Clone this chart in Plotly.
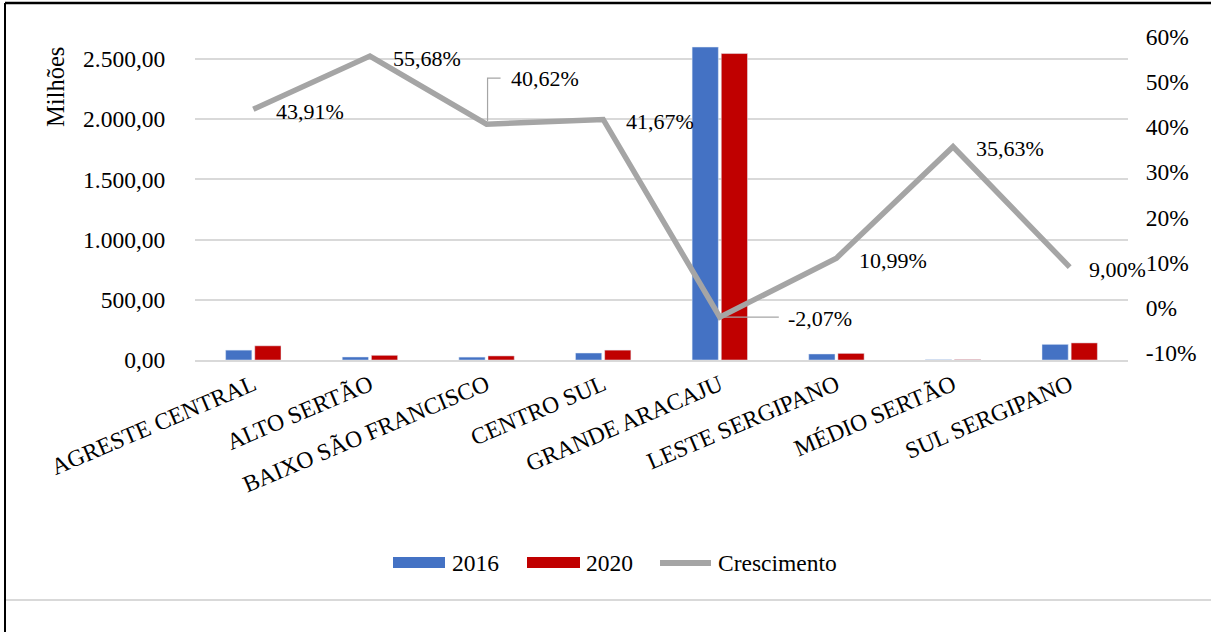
import plotly.graph_objects as go

categories = ["AGRESTE CENTRAL", "ALTO SERTÃO", "BAIXO SÃO FRANCISCO", "CENTRO SUL",
              "GRANDE ARACAJU", "LESTE SERGIPANO", "MÉDIO SERTÃO", "SUL SERGIPANO"]
v2016 = [82, 25, 24, 58, 2600, 50, 3, 130]
v2020 = [118, 39, 34, 82, 2546, 55, 4, 142]
growth = [0.4391, 0.5568, 0.4062, 0.4167, -0.0207, 0.1099, 0.3563, 0.0900]
series_names = ["2016", "2020", "Crescimento"]
left_ticks = [0, 500, 1000, 1500, 2000, 2500]
right_ticks = [-0.1, 0.0, 0.1, 0.2, 0.3, 0.4, 0.5, 0.6]
right_ticktext = ["-10%", "0%", "10%", "20%", "30%", "40%", "50%", "60%"]

FONT = "Liberation Serif, Times New Roman, serif"
BLUE, RED, GRAY = "#4472C4", "#C00000", "#A5A5A5"
W, H = 1211, 632
L, R, T, B = 195, 83, 35, 272
pw, ph = W - L - R, H - T - B


def px_x(p):
    return (p - L) / pw


def px_y(p):
    return (H - B - p) / ph


fig = go.Figure()
fig.add_trace(go.Bar(x=categories, y=v2016, name=series_names[0], marker_color=BLUE))
fig.add_trace(go.Bar(x=categories, y=v2020, name=series_names[1], marker_color=RED))
fig.add_trace(go.Scatter(x=categories, y=growth, name=series_names[2], yaxis="y2",
                         mode="lines", line=dict(color=GRAY, width=5.5)))

labels = [f"{g*100:.2f}%".replace(".", ",") for g in growth]
# label placement: (xshift, yshift) in px; leader paths for two labels
label_shift = {2: (22, 46), 4: (66, -1), 7: (17, -2)}
leaders = {2: "M1,3 L1,46 L14,46", 4: "M4,0 L59,0"}
for i, (c, g, t) in enumerate(zip(categories, growth, labels)):
    xs, ys = label_shift.get(i, (21, -2))
    fig.add_annotation(x=c, y=g, xref="x", yref="y2", text=t, showarrow=False,
                       xanchor="left", yanchor="middle", xshift=xs, yshift=ys,
                       font=dict(family=FONT, size=22, color="black"))
    if i in leaders:
        fig.add_shape(type="path", xref="x", yref="y2", xsizemode="pixel",
                      ysizemode="pixel", xanchor=i, yanchor=g, path=leaders[i],
                      line=dict(color=GRAY, width=1.2))

fig.add_annotation(xref="paper", yref="paper", x=px_x(55), y=px_y(87), text="Milhões",
                   textangle=-90, showarrow=False, xanchor="center", yanchor="middle",
                   font=dict(family=FONT, size=24.5, color="black"))

# legend (wide swatches like the source)
ly = px_y(563)
fig.add_shape(type="rect", xref="paper", yref="paper", x0=px_x(393), x1=px_x(445),
              y0=px_y(557), y1=px_y(568), fillcolor=BLUE, line=dict(width=0))
fig.add_shape(type="rect", xref="paper", yref="paper", x0=px_x(527), x1=px_x(580),
              y0=px_y(557), y1=px_y(568), fillcolor=RED, line=dict(width=0))
fig.add_shape(type="line", xref="paper", yref="paper", x0=px_x(660), x1=px_x(711),
              y0=ly, y1=ly, line=dict(color=GRAY, width=6))
for name, xp in zip(series_names, [450, 584, 716]):
    fig.add_annotation(xref="paper", yref="paper", x=px_x(xp), y=ly, text=name,
                       showarrow=False, xanchor="left", yanchor="middle",
                       font=dict(family=FONT, size=23.5, color="black"))

# frame lines
fig.add_shape(type="line", xref="paper", yref="paper", x0=px_x(5), x1=px_x(W + 5),
              y0=px_y(3), y1=px_y(3), line=dict(color="black", width=2.5))
fig.add_shape(type="line", xref="paper", yref="paper", x0=px_x(5), x1=px_x(5),
              y0=px_y(3), y1=px_y(H + 5), line=dict(color="black", width=2))
fig.add_shape(type="line", xref="paper", yref="paper", x0=px_x(6), x1=px_x(W + 5),
              y0=px_y(600), y1=px_y(600), line=dict(color="#d9d9d9", width=2))

fig.update_layout(
    width=W, height=H,
    margin=dict(l=L, r=R, t=T, b=B, autoexpand=False),
    paper_bgcolor="white", plot_bgcolor="white",
    font=dict(family=FONT, size=23.5, color="black"),
    separators=",.",
    barmode="group", bargap=0.5, bargroupgap=0.1,
    showlegend=False,
    xaxis=dict(type="category", range=[-0.5, len(categories) - 0.5], showgrid=False,
               showline=True, linecolor="#d9d9d9", linewidth=2, tickangle=-23,
               ticks="", tickfont=dict(family=FONT, size=23.5)),
    yaxis=dict(range=[0, 2700], tickvals=left_ticks, tickformat=",.2f",
               showgrid=True, gridcolor="#d9d9d9", gridwidth=1.5, zeroline=False,
               showline=False, ticks="outside", ticklen=24,
               tickcolor="rgba(0,0,0,0)", tickfont=dict(family=FONT, size=23.5)),
    yaxis2=dict(overlaying="y", side="right", range=[-0.1155, 0.6035],
                tickvals=right_ticks, ticktext=right_ticktext, showgrid=False,
                zeroline=False, showline=False, ticks="outside", ticklen=12,
                tickcolor="rgba(0,0,0,0)", tickfont=dict(family=FONT, size=23.5)),
)

fig.write_html("out.html", config={"displayModeBar": False},
               post_script="document.body.style.margin='0px';document.body.style.overflow='hidden';")
